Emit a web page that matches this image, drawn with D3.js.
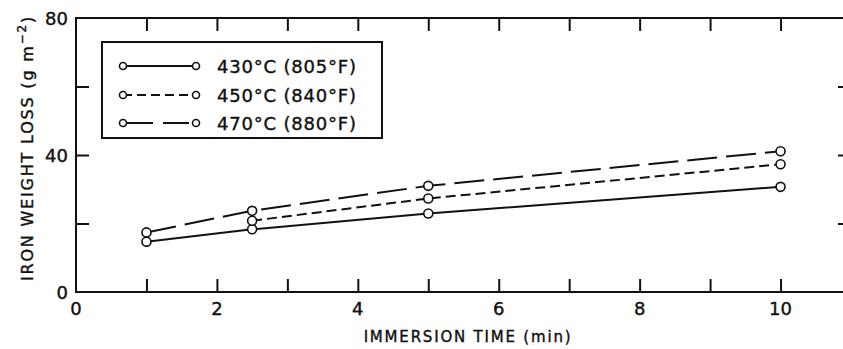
<!DOCTYPE html>
<html>
<head>
<meta charset="utf-8">
<script src="https://cdn.jsdelivr.net/npm/d3@7"></script>
<style>
  body { margin: 0; background: #fff; }
  svg text { font-family: "DejaVu Sans", sans-serif; fill: #111; stroke: #111; stroke-width: 0.4px; }
</style>
</head>
<body>
<svg id="chart" width="843" height="349"></svg>
<script>
// immersion time (min) vs iron weight loss (g m^-2)
var times430 = [1, 2.5, 5, 10];
var loss430 = [14.7, 18.3, 22.9, 30.7];
var times450 = [2.5, 5, 10];
var loss450 = [20.8, 27.3, 37.3];
var times470 = [1, 2.5, 5, 10];
var loss470 = [17.4, 23.7, 31.0, 41.1];

var seriesNames = ["430\u00b0C (805\u00b0F)", "450\u00b0C (840\u00b0F)", "470\u00b0C (880\u00b0F)"];
var xTickLabels = [0, 2, 4, 6, 8, 10];
var yTickLabels = [0, 40, 80];

(function() {
"use strict";

var svg = d3.select("#chart");
var ink = "#111";

var x = d3.scaleLinear().domain([0, 11]).range([76, 851]);
var y = d3.scaleLinear().domain([0, 80]).range([292, 18]);

var series = [
  {name: seriesNames[0], xs: times430, ys: loss430, dash: null, key: null},
  {name: seriesNames[1], xs: times450, ys: loss450, dash: "10,5", key: "9,5"},
  {name: seriesNames[2], xs: times470, ys: loss470, dash: "30,9", key: "26,10"}
];

var g = svg.append("g");
g.append("rect")
  .attr("x", x(0)).attr("y", y(80))
  .attr("width", x(11) - x(0)).attr("height", y(0) - y(80))
  .attr("fill", "none").attr("stroke", ink).attr("stroke-width", 2);

var minorX = d3.range(1, 11);
var minorY = [20, 40, 60];

// ticks on all four sides, pointing inward
g.append("g").attr("transform", "translate(0," + y(0) + ")")
  .call(d3.axisBottom(x).tickValues(minorX).tickSize(-13).tickFormat(""))
  .call(styleAxis);
g.append("g").attr("transform", "translate(0," + y(80) + ")")
  .call(d3.axisTop(x).tickValues(minorX).tickSize(-13).tickFormat(""))
  .call(styleAxis);
g.append("g").attr("transform", "translate(" + x(0) + ",0)")
  .call(d3.axisLeft(y).tickValues(minorY).tickSize(-13).tickFormat(""))
  .call(styleAxis);
g.append("g").attr("transform", "translate(" + x(11) + ",0)")
  .call(d3.axisRight(y).tickValues(minorY).tickSize(-13).tickFormat(""))
  .call(styleAxis);

function styleAxis(sel) {
  sel.select(".domain").remove();
  sel.selectAll(".tick line").attr("stroke", ink).attr("stroke-width", 2);
}

g.selectAll(".xlab").data(xTickLabels).enter().append("text")
  .attr("class", "xlab")
  .attr("x", function(d) { return x(d); })
  .attr("y", 315)
  .attr("text-anchor", "middle")
  .style("font-size", "18px")
  .text(function(d) { return d; });

g.selectAll(".ylab").data(yTickLabels).enter().append("text")
  .attr("class", "ylab")
  .attr("x", 68)
  .attr("y", function(d) { return y(d) + 7; })
  .attr("text-anchor", "end")
  .style("font-size", "18px")
  .text(function(d) { return d; });

g.append("text")
  .attr("x", 468).attr("y", 342)
  .attr("text-anchor", "middle")
  .style("font-size", "15px")
  .style("letter-spacing", "1.8px")
  .text("IMMERSION TIME (min)");

var yt = g.append("text")
  .attr("transform", "translate(33,148) rotate(-90)")
  .attr("text-anchor", "middle")
  .style("font-size", "16px")
  .style("letter-spacing", "1.8px");
yt.append("tspan").text("IRON WEIGHT LOSS (g m");
yt.append("tspan").attr("dy", -7).style("font-size", "12px").text("\u22122");
yt.append("tspan").attr("dy", 7).text(")");

// data lines
var line = d3.line()
  .x(function(d) { return x(d[0]); })
  .y(function(d) { return y(d[1]); });

series.forEach(function(s) {
  var pts = d3.zip(s.xs, s.ys);
  g.append("path")
    .datum(pts)
    .attr("d", line)
    .attr("fill", "none")
    .attr("stroke", ink)
    .attr("stroke-width", 2)
    .attr("stroke-dasharray", s.dash);
  g.selectAll(null).data(pts).enter().append("circle")
    .attr("cx", function(d) { return x(d[0]); })
    .attr("cy", function(d) { return y(d[1]); })
    .attr("r", 4.5)
    .attr("fill", "#fff")
    .attr("stroke", ink)
    .attr("stroke-width", 1.6);
});

// legend
var lg = g.append("g");
lg.append("rect")
  .attr("x", 102).attr("y", 42).attr("width", 280).attr("height", 96)
  .attr("fill", "#fff").attr("stroke", ink).attr("stroke-width", 2);

var rowY = [66, 95, 123];
series.forEach(function(s, i) {
  var row = lg.append("g").attr("transform", "translate(0," + rowY[i] + ")");
  row.append("line")
    .attr("x1", 123).attr("x2", 196)
    .attr("stroke", ink).attr("stroke-width", 2)
    .attr("stroke-dasharray", s.key)
    .attr("stroke-dashoffset", i === 2 ? -4 : 0);
  [123, 196].forEach(function(cx) {
    row.append("circle").attr("cx", cx).attr("cy", 0).attr("r", 3.5)
      .attr("fill", "#fff").attr("stroke", ink).attr("stroke-width", 1.6);
  });
  row.append("text")
    .attr("x", 217).attr("y", 7)
    .style("font-size", "18px")
    .style("letter-spacing", "0.8px")
    .text(s.name);
});

})();
</script>
</body>
</html>
